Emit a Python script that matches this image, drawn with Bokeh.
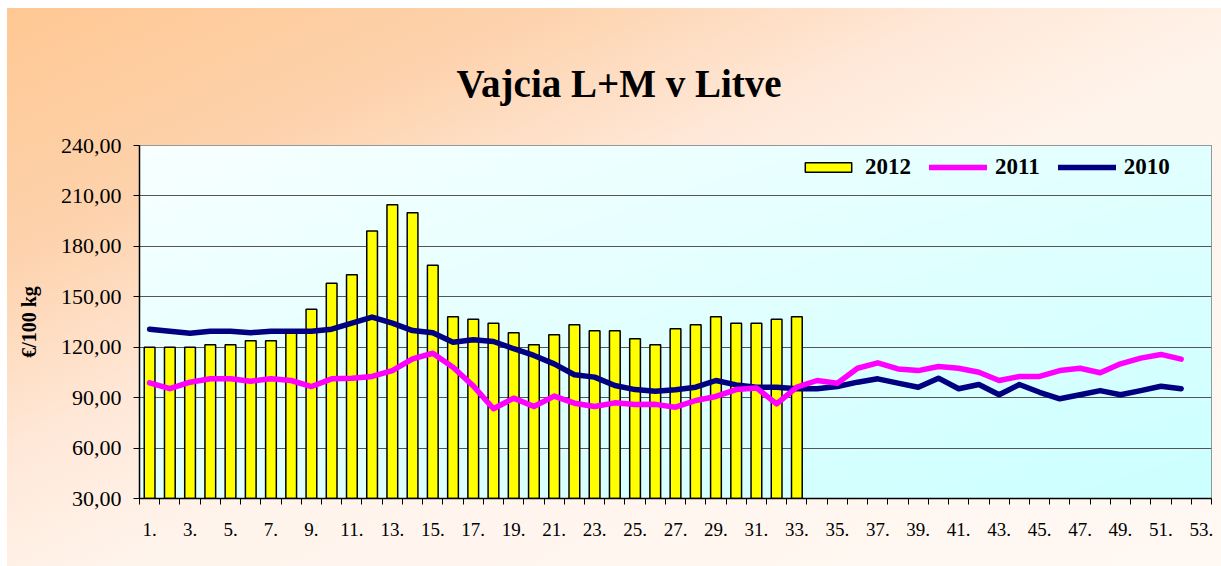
import numpy as np
from bokeh.plotting import figure
from bokeh.models import Range1d, FixedTicker, Legend, LegendItem
from bokeh.embed import file_html
from bokeh.resources import INLINE

# ---- data ----
weeks_axis = list(range(1, 54))
weeks_2012 = list(range(1, 34))
prices_2012 = [120.0, 120.0, 120.0, 121.4, 121.4, 123.8, 123.8, 128.9, 142.6, 158.1,
               163.1, 189.2, 204.7, 200.0, 168.8, 138.1, 136.7, 134.3, 128.6, 121.4,
               127.4, 133.3, 129.8, 129.8, 125.0, 121.4, 131.0, 133.3, 138.1, 134.3,
               134.3, 136.7, 138.1]
weeks_lines = list(range(1, 53))
prices_2011 = [98.8, 95.3, 99.2, 101.2, 101.2, 99.8, 101.2, 100.2, 96.6, 101.2,
               101.6, 102.6, 106.1, 113.1, 116.4, 108.1, 97.0, 83.4, 89.7, 84.7,
               90.9, 86.7, 84.7, 86.9, 85.9, 86.0, 84.3, 88.3, 90.7, 94.8,
               95.8, 86.3, 96.2, 100.2, 98.6, 107.5, 110.7, 107.1, 106.1, 108.5,
               107.5, 105.1, 100.2, 102.6, 102.6, 106.1, 107.5, 104.8, 110.1, 113.5,
               115.7, 112.9]
prices_2010 = [130.7, 129.5, 128.3, 129.5, 129.5, 128.6, 129.5, 129.5, 129.5, 130.7,
               134.3, 137.9, 134.3, 129.9, 128.6, 123.0, 124.5, 123.4, 119.1, 115.1,
               110.1, 103.6, 102.2, 97.2, 94.8, 93.8, 94.7, 96.2, 100.2, 97.6,
               96.2, 96.2, 95.3, 95.3, 96.6, 99.2, 101.2, 98.6, 96.2, 101.6,
               95.3, 97.8, 91.7, 97.8, 93.2, 89.3, 91.7, 94.2, 91.7, 94.2,
               96.8, 95.3]
y_ticks = [30, 60, 90, 120, 150, 180, 210, 240]
y_tick_labels = ["30,00", "60,00", "90,00", "120,00", "150,00", "180,00", "210,00", "240,00"]
x_label_weeks = list(range(1, 54, 2))
x_tick_labels = [f"{w}." for w in x_label_weeks]
series_names = ["2012", "2011", "2010"]
title_text = "Vajcia L+M v Litve"
y_title = "€/100 kg"

FONT = "Liberation Serif"

x0, x1 = 0.5, 53.5
y0, y1 = y_ticks[0], y_ticks[-1]

p = figure(width=1214, height=558, output_backend="svg", toolbar_location=None,
           x_range=Range1d(x0, x1), y_range=Range1d(y0, y1),
           min_border_left=132, min_border_right=10, min_border_top=137, min_border_bottom=68)
p.margin = (8, 0, 0, 7)

# backgrounds
p.border_fill_color = None
p.styles = {"background": "linear-gradient(to bottom right, #FFC893 0%, #FDD2AC 22%, #FFE8D8 40%, #FFF4EC 55%, #FFF8F3 100%)"}
p.background_fill_color = None

# plot-area gradient (white top-left -> light cyan bottom-right)
nx, ny = 240, 120
u = np.linspace(0, 1, nx)[None, :]
v = np.linspace(0, 1, ny)[:, None]  # 0 bottom -> 1 top
t = np.clip((u + (1 - v)) / 2, 0, 1)
r = (248 - (248 - 204) * t).astype(np.uint32)
g = np.full_like(r, 255)
b = np.full_like(r, 255)
img = (255 << 24) | (b << 16) | (g << 8) | r
p.image_rgba(image=[img.astype(np.uint32)], x=x0, y=y0, dw=x1 - x0, dh=y1 - y0, level="image")

# grid
p.xgrid.grid_line_color = None
p.ygrid.ticker = FixedTicker(ticks=y_ticks)
p.ygrid.grid_line_color = "#555555"
p.ygrid.grid_line_width = 1
p.outline_line_color = "#777777"
p.outline_line_width = 1

# bars
bars = p.vbar(x=weeks_2012, top=prices_2012, bottom=y0, width=0.53,
              fill_color="#FFFF00", line_color="#000000", line_width=1.5)
# lines
l10 = p.line(weeks_lines, prices_2010, line_color="#000080", line_width=5.5,
             line_join="round", line_cap="round")
l11 = p.line(weeks_lines, prices_2011, line_color="#FF00FF", line_width=5.5,
             line_join="round", line_cap="round")

# axes
yax = p.yaxis[0]
yax.ticker = FixedTicker(ticks=y_ticks)
yax.major_label_overrides = {tk: lb for tk, lb in zip(y_ticks, y_tick_labels)}
yax.major_label_text_font = FONT
yax.major_label_text_font_size = "22px"
yax.major_label_text_color = "#000000"
yax.major_tick_out = 6
yax.major_tick_in = 0
yax.minor_tick_line_color = None
yax.major_label_standoff = 12
yax.axis_line_color = "#000000"
yax.axis_line_width = 1.5
yax.axis_label = y_title
yax.axis_label_text_font = FONT
yax.axis_label_text_font_style = "bold"
yax.axis_label_text_font_size = "20px"
yax.axis_label_text_color = "#000000"
yax.axis_label_standoff = 18

xax = p.xaxis[0]
xax.ticker = FixedTicker(ticks=x_label_weeks, minor_ticks=[w - 0.5 for w in weeks_axis] + [weeks_axis[-1] + 0.5])
xax.major_label_overrides = {tk: lb for tk, lb in zip(x_label_weeks, x_tick_labels)}
xax.major_tick_line_color = None
xax.major_tick_out = 6
xax.major_tick_in = 0
xax.minor_tick_line_color = "#000000"
xax.minor_tick_out = 6
xax.minor_tick_in = 0
xax.major_label_standoff = 18
xax.major_label_text_font = FONT
xax.major_label_text_font_size = "19px"
xax.major_label_text_color = "#000000"
xax.axis_line_color = "#000000"
xax.axis_line_width = 1.5

# title
p.title.text = title_text
p.title.text_font = FONT
p.title.text_font_style = "bold"
p.title.text_font_size = "39px"
p.title.text_color = "#000000"
p.title.align = "left"
p.title.offset = 317
p.title.standoff = 81

# legend
legend = Legend(items=[LegendItem(label=series_names[0], renderers=[bars]),
                       LegendItem(label=series_names[1], renderers=[l11]),
                       LegendItem(label=series_names[2], renderers=[l10])],
                orientation="horizontal", location=(660, 318),
                glyph_width=58, glyph_height=12, label_standoff=8, spacing=18,
                padding=2, margin=0,
                border_line_color=None, background_fill_alpha=0,
                label_text_font=FONT, label_text_font_style="bold",
                label_text_font_size="23px", label_text_color="#000000")
p.add_layout(legend)

open("out.html", "w").write(file_html(p, INLINE))
